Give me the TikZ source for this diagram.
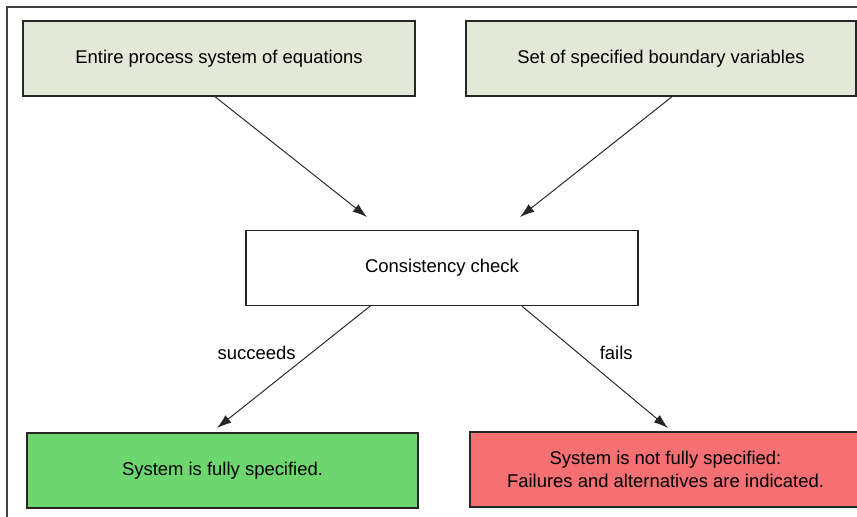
\documentclass[tikz,border=0pt]{standalone}
\usepackage{fontspec}
\setmainfont{Liberation Sans}
\usetikzlibrary{arrows.meta}
\definecolor{inputfill}{RGB}{228,232,216}
\definecolor{okfill}{RGB}{110,214,110}
\definecolor{failfill}{RGB}{244,112,114}
\tikzset{
  box/.style={draw=black!85, line width=0.8pt, minimum width=7.84cm, minimum height=1.5cm,
    align=center, font=\fontsize{10.5}{13.5}\selectfont},
  flow/.style={draw=black!85, line width=0.55pt, -{Latex[length=2.9mm,width=1.9mm]}},
  flowlabel/.style={font=\fontsize{10.5}{13}\selectfont},
}
\begin{document}
\begin{tikzpicture}
\useasboundingbox (0,0) rectangle (17.14,10.32);
\clip (0,0) rectangle (17.14,10.32);
\draw[black!75, line width=0.6pt] (0.14,-1) rectangle (18,10.18);
% inputs
\node[box, fill=inputfill] (eqs) at (4.38,9.15) {Entire process system of equations};
\node[box, fill=inputfill, minimum width=7.8cm] (vars) at (13.22,9.15) {Set of specified boundary variables};
% check
\node[box, fill=white] (check) at (8.84,4.96) {Consistency check};
% results
\node[box, fill=okfill, minimum width=7.82cm] (ok) at (4.45,0.91) {System is fully specified.};
\node[box, fill=failfill, minimum width=7.82cm] (fail) at (13.31,0.93) {System is not fully specified:\\Failures and alternatives are indicated.};
% arrow tips stop short of the boxes
\coordinate (eqsEnd) at (7.34,5.98);
\coordinate (varsEnd) at (10.4,5.98);
\coordinate (okEnd) at (4.34,1.76);
\coordinate (failEnd) at (13.36,1.76);
\draw[flow] ([xshift=-0.08cm]eqs.south) -- (eqsEnd);
\draw[flow] ([xshift=0.22cm]vars.south) -- (varsEnd);
\draw[flow] ([xshift=-1.44cm]check.south) -- (okEnd) node[flowlabel, pos=0.38, left=0.2cm] {succeeds};
\draw[flow] ([xshift=1.6cm]check.south) -- (failEnd) node[flowlabel, pos=0.38, right=0.32cm] {fails};
\end{tikzpicture}
\end{document}
